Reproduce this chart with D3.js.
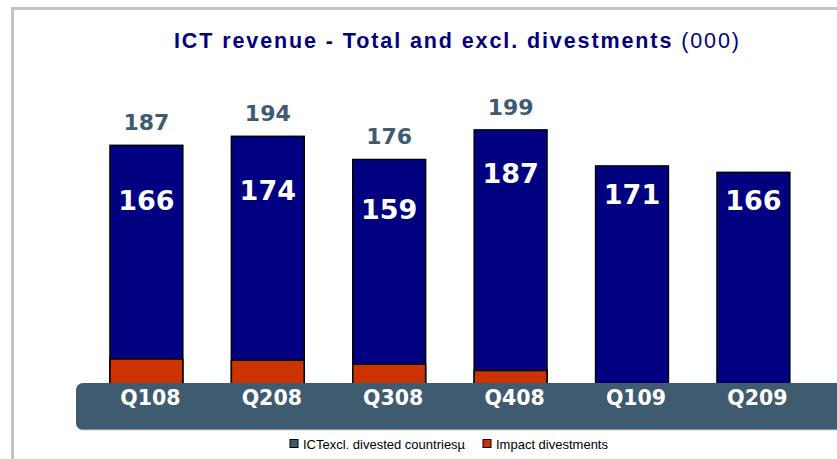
<!DOCTYPE html>
<html>
<head>
<meta charset="utf-8">
<script src="https://cdn.jsdelivr.net/npm/d3@7"></script>
<style>
  html, body { margin:0; padding:0; background:#fff; }
  svg { display:block; }
</style>
</head>
<body>
<svg id="chart" width="837" height="459"></svg>
<script>
/* ---- data ---- */
const quarters   = ["Q108","Q208","Q308","Q408","Q109","Q209"];
const totals     = [187, 194, 176, 199, 171, 166];   // labels above bars
const exclDivest = [166, 174, 159, 187, 171, 166];   // labels inside bars
const impact     = [21, 20, 17, 12, 0, 0];          // orange segment

const W = 837, H = 459;
const svg = d3.select("#chart");

/* frame (grey lines top + left) */
svg.append("path")
   .attr("d", `M12.5,${H} V8.5 H${W}`)
   .attr("fill","none").attr("stroke","#c4c4c4").attr("stroke-width",3);

/* title */
const title = svg.append("text").attr("x", 174).attr("y", 48)
   .attr("font-family","Liberation Sans, Arial, sans-serif")
   .attr("font-size",21.5).attr("fill","#000080")
   .attr("letter-spacing",1.9);
title.append("tspan").attr("font-weight","bold")
   .text("ICT revenue - Total and excl. divestments");
title.append("tspan").text(" (000)");

/* scales */
const x = d3.scaleBand().domain(quarters).range([85.7, 814.1])
            .paddingInner(0.4).paddingOuter(0.2);
const y = d3.scaleLinear().domain([0, 200]).range([386, 128.6]);

const rows = quarters.map((q,i) => ({q, total: totals[i], excl: exclDivest[i], imp: impact[i]}));

/* bars: full total in navy, impact on bottom in orange */
svg.selectAll(".bar").data(rows).enter().append("rect")
   .attr("class","bar")
   .attr("x", d => x(d.q)).attr("width", x.bandwidth())
   .attr("y", d => y(d.total)).attr("height", d => y(0) - y(d.total) + 6)
   .attr("fill","#000080").attr("stroke","#000").attr("stroke-width",1.5);

svg.selectAll(".imp").data(rows.filter(d => d.imp > 0)).enter().append("rect")
   .attr("class","imp")
   .attr("x", d => x(d.q)).attr("width", x.bandwidth())
   .attr("y", d => y(d.imp)).attr("height", d => y(0) - y(d.imp) + 6)
   .attr("fill","#cc3300").attr("stroke","#000").attr("stroke-width",1.5);

/* total labels above bars (only where divestments exist) */
svg.selectAll(".tot").data(rows.filter(d => d.imp > 0)).enter().append("text")
   .attr("class","tot")
   .attr("x", d => x(d.q) + x.bandwidth()/2).attr("y", d => y(d.total) - 15)
   .attr("text-anchor","middle")
   .attr("font-family","DejaVu Sans, Verdana, sans-serif").attr("font-weight","bold")
   .attr("font-size",22).attr("fill","#3f5b72")
   .text(d => d.total);

/* inner labels */
svg.selectAll(".inner").data(rows).enter().append("text")
   .attr("class","inner")
   .attr("x", d => x(d.q) + x.bandwidth()/2).attr("y", d => y(d.excl) + 38)
   .attr("text-anchor","middle")
   .attr("font-family","DejaVu Sans, Verdana, sans-serif").attr("font-weight","bold")
   .attr("font-size",27).attr("fill","#fff")
   .text(d => d.excl);

/* category band */
svg.append("rect").attr("x",76).attr("y",383).attr("width",W).attr("height",47)
   .attr("rx",7).attr("fill","#3e5b70");
svg.append("line").attr("x1",82).attr("x2",W).attr("y1",430).attr("y2",430)
   .attr("stroke","#c8d0d6").attr("stroke-width",1);

svg.append("g").selectAll("text").data(quarters).enter().append("text")
   .attr("x", d => x(d) + x.bandwidth()/2 + 4).attr("y", 405)
   .attr("text-anchor","middle")
   .attr("font-family","DejaVu Sans, Verdana, sans-serif").attr("font-weight","bold")
   .attr("font-size",20.5).attr("fill","#fff")
   .text(d => d);

/* legend */
const legend = [
  {label:"ICTexcl. divested countriesµ", color:"#3e5b70", x:290},
  {label:"Impact divestments",           color:"#cc3300", x:483}
];
const lg = svg.append("g").selectAll("g").data(legend).enter().append("g")
   .attr("transform", d => `translate(${d.x},439.5)`);
lg.append("rect").attr("width",8).attr("height",8)
   .attr("fill", d => d.color).attr("stroke","#000").attr("stroke-width",1);
lg.append("text").attr("x",13).attr("y",9.5)
   .attr("font-family","Liberation Sans, Arial, sans-serif").attr("font-size",13)
   .attr("fill","#000").text(d => d.label);
</script>
</body>
</html>
